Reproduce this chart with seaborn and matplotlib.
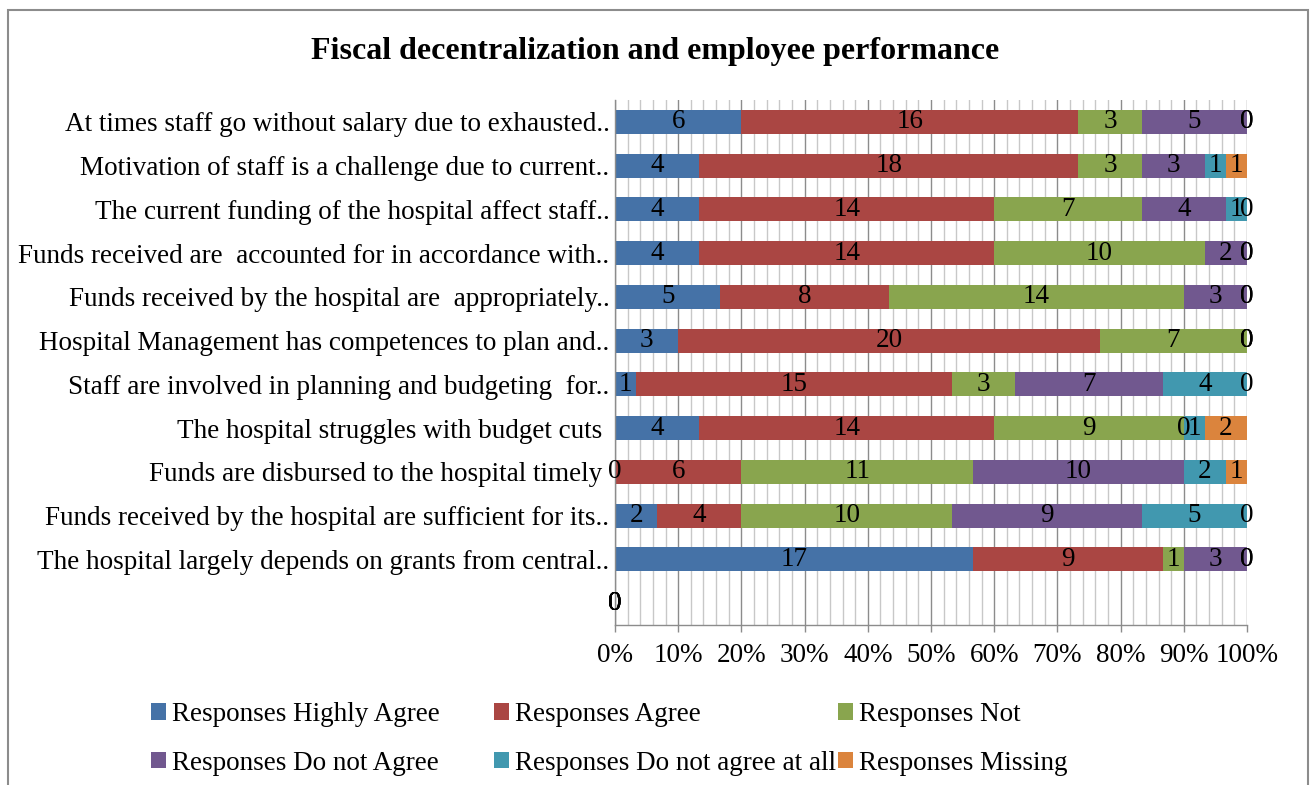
"""Fiscal decentralization and employee performance - 100% stacked bars."""

import matplotlib

matplotlib.use("Agg")

import matplotlib.pyplot as plt  # noqa: E402
import numpy as np  # noqa: E402
import pandas as pd  # noqa: E402
import seaborn as sns  # noqa: E402
from matplotlib.patches import Patch, Rectangle  # noqa: E402

# Statements, top to bottom (last row is empty in the source chart)
statements = [
    "At times staff go without salary due to exhausted..",
    "Motivation of staff is a challenge due to current..",
    "The current funding of the hospital affect staff..",
    "Funds received are  accounted for in accordance with..",
    "Funds received by the hospital are  appropriately..",
    "Hospital Management has competences to plan and..",
    "Staff are involved in planning and budgeting  for..",
    "The hospital struggles with budget cuts ",
    "Funds are disbursed to the hospital timely ",
    "Funds received by the hospital are sufficient for its..",
    "The hospital largely depends on grants from central..",
    "",
]

series_names = [
    "Responses Highly Agree",
    "Responses Agree",
    "Responses Not",
    "Responses Do not Agree",
    "Responses Do not agree at all",
    "Responses Missing",
]

highly_agree = [6, 4, 4, 4, 5, 3, 1, 4, 0, 2, 17, 0]
agree = [16, 18, 14, 14, 8, 20, 15, 14, 6, 4, 9, 0]
neutral = [3, 3, 7, 10, 14, 7, 3, 9, 11, 10, 1, 0]
do_not_agree = [5, 3, 4, 2, 3, 0, 7, 0, 10, 9, 3, 0]
not_at_all = [0, 1, 1, 0, 0, 0, 4, 1, 2, 5, 0, 0]
missing = [0, 1, 0, 0, 0, 0, 0, 2, 1, 0, 0, 0]

colors = ["#4572A7", "#AA4643", "#89A54E", "#71588F", "#4198AF", "#DB843D"]
x_ticks = [0, 10, 20, 30, 40, 50, 60, 70, 80, 90, 100]

counts = pd.DataFrame(
    dict(zip(series_names, [highly_agree, agree, neutral, do_not_agree, not_at_all, missing]))
)
counts.insert(0, "statement", statements)

# Convert to percent of row total, then cumulative for stacking
vals = counts[series_names].to_numpy(dtype=float)
totals = vals.sum(axis=1, keepdims=True)
pct = np.divide(vals * 100, totals, out=np.zeros_like(vals), where=totals > 0)
cum = np.cumsum(pct, axis=1)

plt.rcParams["font.family"] = ["Liberation Serif", "DejaVu Serif"]
FS = 19.5

fig = plt.figure(figsize=(13.1, 7.85), dpi=100)
ax = fig.add_axes([615 / 1310, 1 - 625 / 785, 632 / 1310, 525 / 785])

# Draw the stacked bars back to front: the widest cumulative sum first
for j in range(len(series_names) - 1, -1, -1):
    layer = pd.DataFrame({"statement": statements, "cum": cum[:, j]})
    sns.barplot(
        data=layer,
        x="cum",
        y="statement",
        order=statements,
        orient="h",
        color=colors[j],
        saturation=1,
        width=0.55,
        linewidth=0,
        ax=ax,
        zorder=2,
    )

# Data labels centred on each segment
for i in range(len(statements)):
    for j in range(len(series_names)):
        centre = cum[i, j] - pct[i, j] / 2
        ax.text(centre, i, f"{int(vals[i, j])}", ha="center", va="center",
                fontsize=FS, zorder=3)

ax.set_xlim(0, 100)
ax.set_xticks(x_ticks)
ax.set_xticklabels([f"{t}%" for t in x_ticks], fontsize=FS)
ax.set_xticks(np.arange(0, 101, 2), minor=True)
ax.grid(axis="x", which="major", color="#8c8c8c", linewidth=1.0, zorder=0)
ax.grid(axis="x", which="minor", color="#c8c8c8", linewidth=1.0, zorder=0)
ax.grid(axis="y", visible=False)
ax.set_axisbelow(True)
ax.tick_params(axis="x", which="major", length=5, width=1, color="#8c8c8c", pad=8)
ax.tick_params(axis="x", which="minor", length=0)
ax.tick_params(axis="y", length=0, pad=4, labelsize=FS)
ax.set_xlabel("")
ax.set_ylabel("")
for side in ["top", "right"]:
    ax.spines[side].set_visible(False)
for side in ["left", "bottom"]:
    ax.spines[side].set_color("#8c8c8c")
    ax.spines[side].set_linewidth(1.0)

fig.text(0.5, 1 - 51 / 785, "Fiscal decentralization and employee performance",
         ha="center", va="center", fontsize=23, fontweight="bold")

# Legend: three fixed-width columns, filled row by row
handles = [Patch(facecolor=c, edgecolor="none") for c in colors]
col_x = [151, 494, 838]
for k, x0 in enumerate(col_x):
    fig.legend(
        handles=[handles[k], handles[k + 3]],
        labels=[series_names[k], series_names[k + 3]],
        loc="upper left",
        bbox_to_anchor=(x0 / 1310, 1 - 702 / 785),
        frameon=False,
        fontsize=FS,
        handlelength=0.56,
        handleheight=0.56,
        handletextpad=0.2,
        labelspacing=0.87,
        borderpad=0,
        borderaxespad=0,
    )

# Outer chart border
fig.patches.append(
    Rectangle((8 / 1310, -0.02), 1300 / 1310, 1.02 - 10 / 785,
              transform=fig.transFigure, fill=False, edgecolor="#8c8c8c",
              linewidth=1.5)
)

fig.savefig("out.png", dpi=100)
plt.close(fig)
